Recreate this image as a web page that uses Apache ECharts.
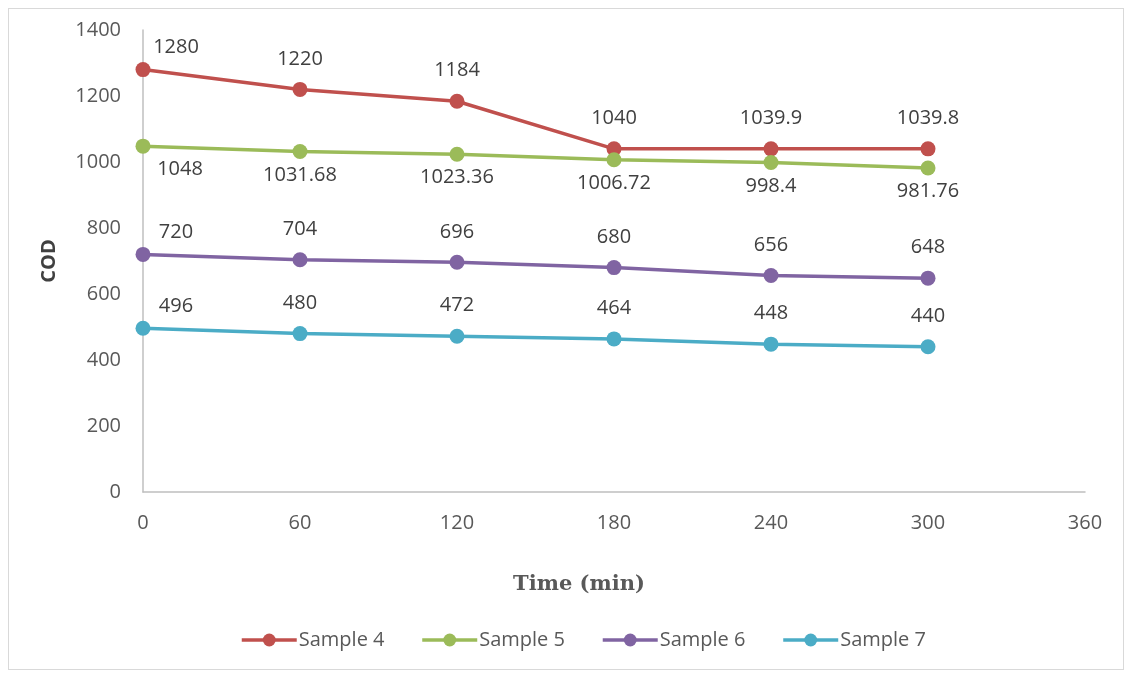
<!DOCTYPE html>
<html>
<head>
<meta charset="utf-8">
<script src="https://cdn.jsdelivr.net/npm/echarts@6/dist/echarts.min.js"></script>
<style>
  html, body { margin: 0; padding: 0; background: #fff; }
  #frame { position: absolute; left: 8px; top: 8px; width: 1114px; height: 660px; border: 1px solid #d9d9d9; }
  #chart { position: absolute; left: 0; top: 0; width: 1130px; height: 675px; }
</style>
</head>
<body>
<div id="frame"></div>
<div id="chart"></div>
<script>
const times = [0, 60, 120, 180, 240, 300]
const sample4 = [1280, 1220, 1184, 1040, 1039.9, 1039.8]
const sample5 = [1048, 1031.68, 1023.36, 1006.72, 998.4, 981.76]
const sample6 = [720, 704, 696, 680, 656, 648]
const sample7 = [496, 480, 472, 464, 448, 440]

const seriesDefs = [
  { name: 'Sample 4', data: sample4, color: '#C0504D', below: false },
  { name: 'Sample 5', data: sample5, color: '#9BBB59', below: true },
  { name: 'Sample 6', data: sample6, color: '#8064A2', below: false },
  { name: 'Sample 7', data: sample7, color: '#4BACC6', below: false },
]

const font = '"Open Sans", "Noto Sans", sans-serif'

const chart = echarts.init(document.getElementById('chart'), null, { renderer: 'canvas' })

chart.setOption({
  animation: false,
  grid: { left: 143, right: 45, top: 30, bottom: 183 },
  legend: {
    bottom: 20,
    left: 235,
    itemWidth: 55,
    itemHeight: 16,
    itemGap: 36,
    lineStyle: { width: 3.5 },
    textStyle: { color: '#595959', fontSize: 20, fontFamily: font, padding: [0, 0, 0, -3] },
    data: seriesDefs.map(s => s.name),
  },
  xAxis: {
    type: 'value',
    min: 0,
    max: 360,
    interval: 60,
    name: 'Time (min)',
    nameLocation: 'middle',
    nameGap: 82,
    nameTextStyle: { fontFamily: '"DejaVu Serif", serif', fontWeight: 'bold', fontSize: 21, color: '#595959', padding: [0, 70, 0, 0] },
    axisLine: { lineStyle: { color: '#bfbfbf', width: 1.5 } },
    axisTick: { show: false },
    splitLine: { show: false },
    axisLabel: { color: '#595959', fontSize: 20, fontFamily: font, margin: 21 },
  },
  yAxis: {
    type: 'value',
    min: 0,
    max: 1400,
    interval: 200,
    name: 'COD',
    nameLocation: 'middle',
    nameRotate: 90,
    nameGap: 84,
    nameTextStyle: { fontFamily: font, fontWeight: 'bold', fontSize: 20, color: '#404040' },
    axisLine: { show: true, lineStyle: { color: '#bfbfbf', width: 1.5 } },
    axisTick: { show: false },
    splitLine: { show: false },
    axisLabel: { color: '#595959', fontSize: 20, fontFamily: font, margin: 22, formatter: v => String(v) },
  },
  series: seriesDefs.map(s => ({
    name: s.name,
    type: 'line',
    data: s.data.map((v, i) => {
      const item = { value: [times[i], v] }
      if (i === 0) item.label = { offset: s.below ? [37, 0] : [33, 8] }
      return item
    }),
    symbol: 'circle',
    symbolSize: 15,
    lineStyle: { color: s.color, width: 3.5 },
    itemStyle: { color: s.color },
    label: {
      show: true,
      position: s.below ? 'bottom' : 'top',
      distance: s.below ? 6 : 13,
      color: '#404040',
      fontSize: 20,
      fontFamily: font,
      formatter: p => String(p.value[1]),
    },
  })),
})
</script>
</body>
</html>
